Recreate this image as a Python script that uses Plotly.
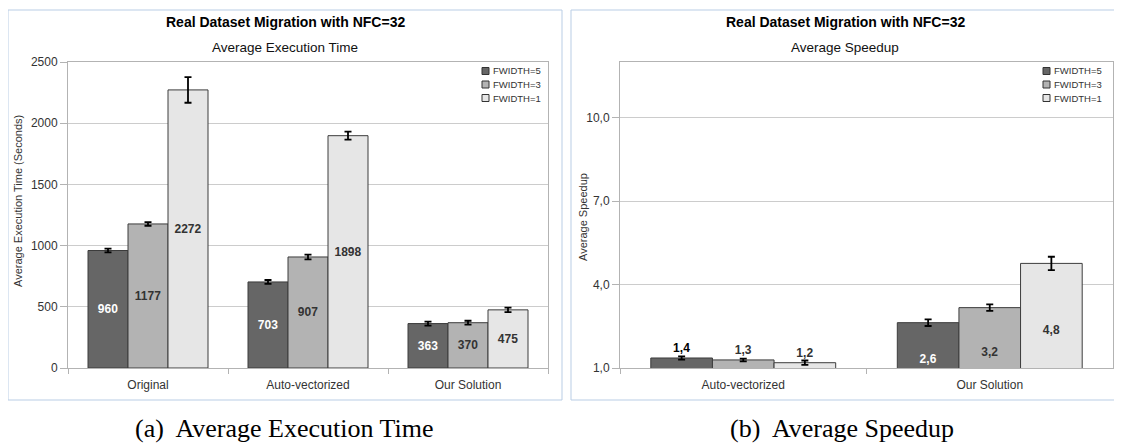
import plotly.graph_objects as go

# page has an 8px body margin, so the figure is sized to fit inside the window
OFF = 8
W, H = 1122 - OFF, 445 - OFF

# ---------------- data ----------------
categories_time = ["Original", "Auto-vectorized", "Our Solution"]
categories_speed = ["Auto-vectorized", "Our Solution"]
series_names = ["FWIDTH=5", "FWIDTH=3", "FWIDTH=1"]

time_fw5 = [960, 703, 363]
time_fw3 = [1177, 907, 370]
time_fw1 = [2272, 1898, 475]
time_err_fw5 = [15, 16, 16]
time_err_fw3 = [15, 19, 16]
time_err_fw1 = [105, 33, 19]

speed_fw5 = [1.36, 2.63]
speed_fw3 = [1.29, 3.17]
speed_fw1 = [1.19, 4.76]
speed_err_fw5 = [0.06, 0.12]
speed_err_fw3 = [0.05, 0.12]
speed_err_fw1 = [0.08, 0.24]

time_ticks = [0, 500, 1000, 1500, 2000, 2500]
speed_ticks = [1, 4, 7, 10]

main_title = "Real Dataset Migration with NFC=32"
sub_time = "Average Execution Time"
sub_speed = "Average Speedup"
ytitle_time = "Average Execution Time (Seconds)"
ytitle_speed = "Average Speedup"
caption_a = "(a)  Average Execution Time"
caption_b = "(b)  Average Speedup"

# ---------------- style ----------------
bar_colors = ["#666666", "#b3b3b3", "#e6e6e6"]
in_text_colors = ["#ffffff", "#333333", "#333333"]
out_text_colors = ["#000000", "#333333", "#333333"]
FONT = "Liberation Sans"
AXIS = "#b3b3b3"
GRID = "#cccccc"


def fx(px):
    return (px - OFF) / W


def fy(py):
    return 1 - (py - OFF) / H


fig = go.Figure()

time_vals = [time_fw5, time_fw3, time_fw1]
time_errs = [time_err_fw5, time_err_fw3, time_err_fw1]
speed_vals = [speed_fw5, speed_fw3, speed_fw1]
speed_errs = [speed_err_fw5, speed_err_fw3, speed_err_fw1]

for i, name in enumerate(series_names):
    fig.add_trace(go.Bar(
        x=categories_time, y=time_vals[i], name=name,
        marker=dict(color=bar_colors[i], line=dict(color="#3c3c3c", width=1)),
        error_y=dict(type="data", array=time_errs[i], color="#000000",
                     thickness=1.8, width=3.5),
        texttemplate="<b>%{y:.0f}</b>", textposition="inside",
        insidetextanchor="middle", textangle=0, constraintext="none",
        insidetextfont=dict(family=FONT, size=12, color=in_text_colors[i]),
        xaxis="x", yaxis="y", showlegend=False, hoverinfo="skip",
    ))

for i, name in enumerate(series_names):
    fig.add_trace(go.Bar(
        x=categories_speed, y=speed_vals[i], name=name,
        marker=dict(color=bar_colors[i], line=dict(color="#3c3c3c", width=1)),
        error_y=dict(type="data", array=speed_errs[i], color="#000000",
                     thickness=1.8, width=3.5),
        texttemplate="<b>%{y:.1f}</b>", textposition=["outside", "inside"],
        insidetextanchor="middle", textangle=0, constraintext="none",
        insidetextfont=dict(family=FONT, size=12, color=in_text_colors[i]),
        outsidetextfont=dict(family=FONT, size=12, color=out_text_colors[i]),
        cliponaxis=False,
        xaxis="x2", yaxis="y2", showlegend=False, hoverinfo="skip",
    ))

ydom = [fy(368), fy(62)]
common_x = dict(showline=True, linecolor=AXIS, linewidth=1, mirror=True,
                ticks="outside", tickson="boundaries", ticklen=5,
                tickcolor=AXIS, tickfont=dict(family=FONT, size=12, color="#333333"),
                ticklabelstandoff=6,
                showgrid=False, automargin=False)
common_y = dict(showline=True, linecolor=AXIS, linewidth=1, mirror=True,
                ticks="outside", ticklen=7, tickcolor=AXIS,
                tickfont=dict(family=FONT, size=12, color="#333333"),
                showgrid=True, gridcolor=GRID, gridwidth=1, zeroline=False,
                automargin=False)

fig.update_layout(
    width=W, height=H, margin=dict(l=0, r=0, t=0, b=0, autoexpand=False),
    paper_bgcolor="white", plot_bgcolor="white",
    barmode="group", bargap=0.25, bargroupgap=0,
    separators=",.", showlegend=False,
    font=dict(family=FONT, color="#333333"),
    xaxis=dict(domain=[fx(68), fx(548)], anchor="y", **common_x),
    yaxis=dict(domain=ydom, anchor="x", range=[0, 2500], tickvals=time_ticks,
               tickformat="d", **common_y),
    xaxis2=dict(domain=[fx(620), fx(1113)], anchor="y2", **common_x),
    yaxis2=dict(domain=ydom, anchor="x2", range=[1, 12], tickvals=speed_ticks,
                tickformat=".1f", **common_y),
)

shapes = []
annotations = []

# panel frames
for (x0, x1) in [(8, 562), (571, 1118)]:
    shapes.append(dict(type="rect", xref="paper", yref="paper",
                       x0=fx(x0), x1=fx(x1), y0=fy(400), y1=fy(10),
                       line=dict(color="#b9cde5", width=1), fillcolor="rgba(0,0,0,0)",
                       layer="below"))

# titles
for cx, sub in [(285, sub_time), (845, sub_speed)]:
    annotations.append(dict(text="<b>" + main_title + "</b>", x=fx(cx), y=fy(22),
                            xref="paper", yref="paper", showarrow=False,
                            xanchor="center", yanchor="middle",
                            font=dict(family=FONT, size=14, color="#000000")))
    annotations.append(dict(text=sub, x=fx(cx), y=fy(47), xref="paper", yref="paper",
                            showarrow=False, xanchor="center", yanchor="middle",
                            font=dict(family=FONT, size=13.5, color="#111111")))

# y-axis titles
for cx, cy, t in [(18, 201, ytitle_time), (583, 217, ytitle_speed)]:
    annotations.append(dict(text=t, x=fx(cx), y=fy(cy), xref="paper", yref="paper",
                            showarrow=False, textangle=-90,
                            xanchor="center", yanchor="middle",
                            font=dict(family=FONT, size=11, color="#333333")))

# captions
for cx, cap in [(284, caption_a), (842, caption_b)]:
    annotations.append(dict(text=cap, x=fx(cx), y=fy(428), xref="paper", yref="paper",
                            showarrow=False, xanchor="center", yanchor="middle",
                            font=dict(family="Liberation Serif", size=26, color="#000000")))

# manual compact legends
for sq_x, txt_x in [(482, 491), (1043, 1052)]:
    for i, name in enumerate(series_names):
        cy = 71 + 13.5 * i
        shapes.append(dict(type="rect", xref="paper", yref="paper",
                           x0=fx(sq_x), x1=fx(sq_x + 7), y0=fy(cy + 3.5), y1=fy(cy - 3.5),
                           fillcolor=bar_colors[i], line=dict(color="#333333", width=1)))
        annotations.append(dict(text=name, x=fx(txt_x), y=fy(cy), xref="paper", yref="paper",
                                xanchor="left", yanchor="middle", showarrow=False,
                                font=dict(family=FONT, size=9.5, color="#333333")))

fig.update_layout(shapes=shapes, annotations=annotations)

fig.write_html("out.html")
